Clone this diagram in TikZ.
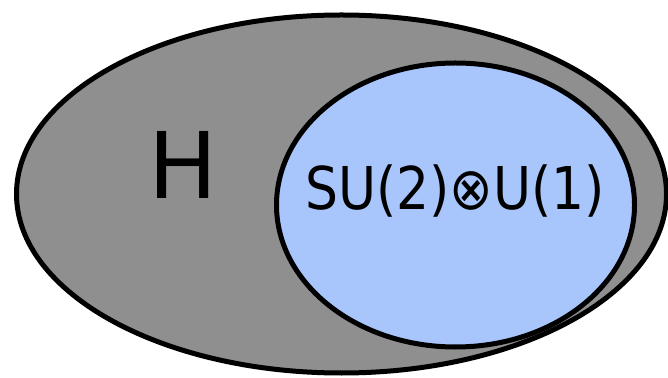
\documentclass[tikz,border=0pt]{standalone}
\usepackage{fontspec}
\setmainfont{DejaVu Sans}
\definecolor{groupgray}{RGB}{143,143,143}
\definecolor{groupblue}{RGB}{168,198,252}
\begin{document}
\begin{tikzpicture}[x=1pt,y=1pt]
        \useasboundingbox (0,0) rectangle (668,377);
        \draw[line width=5pt, fill=groupgray] (341.5,183) ellipse[x radius=325, y radius=179];
        \draw[line width=5pt, fill=groupblue] (455.5,172) ellipse[x radius=179, y radius=142];

        \node[font=\fontsize{92}{92}\selectfont, anchor=base, inner sep=0pt] (bigH) at (183.5,178) {H};
        \node[font=\fontsize{59}{59}\selectfont, anchor=base, inner sep=0pt] (sub) at (455,167) {\scalebox{0.88}[1]{SU(2)⊗U(1)}};
    \end{tikzpicture}
\end{document}
